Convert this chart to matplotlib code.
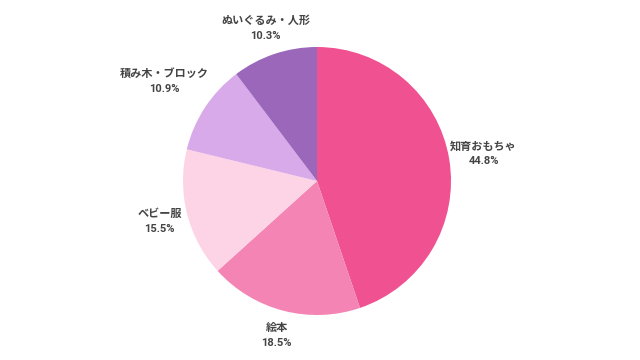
import numpy as np
import matplotlib
matplotlib.use("Agg")
import matplotlib.pyplot as plt

plt.rcParams['font.family'] = ['Roboto', 'Noto Sans CJK JP', 'DejaVu Sans']

# Data
categories = ['知育おもちゃ', '絵本', 'ベビー服', '積み木・ブロック', 'ぬいぐるみ・人形']
shares = [44.8, 18.5, 15.5, 10.9, 10.3]
colors = ['#f05190', '#f384b3', '#fdd4e6', '#d8aae9', '#9b67ba']

# label distance from centre, in pie radii (layout only)
label_radius = [1.26, 1.19, 1.21, 1.36, 1.2]

fig = plt.figure(figsize=(6.4, 3.6), dpi=100)
# pie centred at (317, 181) px, radius ~134 px
cx, cy, r = 317, 181, 134
ax = fig.add_axes([(cx - r) / 640, (360 - cy - r) / 360, 2 * r / 640, 2 * r / 360])

wedges, _ = ax.pie(shares, colors=colors, startangle=90, counterclock=False,
                   radius=1.0, wedgeprops=dict(linewidth=0))
ax.set_xlim(-1, 1)
ax.set_ylim(-1, 1)
ax.set_aspect('equal')
ax.axis('off')

for w, name, val, d in zip(wedges, categories, shares, label_radius):
    mid = np.deg2rad((w.theta1 + w.theta2) / 2)
    x, y = d * np.cos(mid), d * np.sin(mid)
    ax.text(x, y, f"{name}\n{val}%", ha='center', va='center', fontsize=8,
            fontweight='bold', color='#444444', linespacing=1.65, clip_on=False)

fig.savefig('out.png', dpi=100)
